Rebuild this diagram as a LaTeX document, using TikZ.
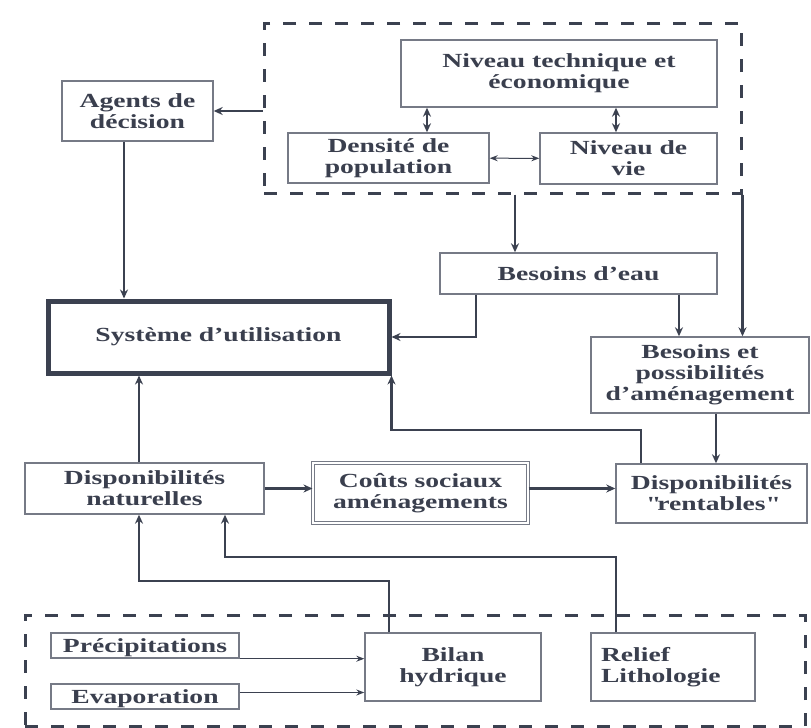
\documentclass[tikz,border=0pt]{standalone}
\usepackage{fontspec}
\setmainfont{Liberation Serif}[FakeStretch=1.38]
\usepackage{tikz}
\usetikzlibrary{positioning,arrows.meta}
\definecolor{trait}{HTML}{3B4150}
\definecolor{cadre}{HTML}{767A86}
\definecolor{texte}{HTML}{3A3F4E}

\begin{document}
\begin{tikzpicture}[x=0.5pt, y=-0.5pt, >={Stealth[length=4.5pt,width=4pt]},
      boite/.style={draw=cadre, line width=0.7pt, fill=white, text=texte, align=center,
                    inner sep=2pt, font=\bfseries\fontsize{10}{10.5}\selectfont},
      zone/.style={draw=trait, line width=1.5pt, dash pattern=on 6.5pt off 6.5pt},
      fleche/.style={draw=trait, line width=1.3pt, ->},
      fin/.style={draw=trait, line width=0.5pt, ->, >={Stealth[length=4pt,width=3pt]}}]
      \useasboundingbox (0,0) rectangle (811,728);
      % zones en tirets
      \node[zone, minimum width=238.5pt, minimum height=85pt] (haut) at (502.5,108) {};
      \node[zone, minimum width=390pt, minimum height=55.5pt] (bas) at (415,670.5) {};
      % boites
      \node[boite, minimum width=75.5pt, minimum height=30pt] (agents) at (137.5,111) {Agents de\\décision};
      \node[boite, minimum width=158pt, minimum height=33.5pt] (niv) at (559,73.5) {Niveau technique et\\économique};
      \node[boite, minimum width=100.5pt, minimum height=25pt] (dens) at (388.5,158) {Densité de\\population};
      \node[boite, minimum width=88.5pt, minimum height=25.5pt] (vie) at (628.5,158.5) {Niveau de\\vie};
      \node[boite, minimum width=138.5pt, minimum height=20.5pt] (eau) at (578.5,273.5) {Besoins d’eau};
      \node[boite, draw=trait, line width=2.5pt, minimum width=170.5pt, minimum height=36pt] (sys) at (218.5,337) {Système d’utilisation};
      \node[boite, minimum width=109pt, minimum height=38pt] (besp) at (700,375) {Besoins et\\possibilités\\d’aménagement};
      \node[boite, minimum width=119.5pt, minimum height=25.5pt] (dnat) at (144.5,488.5) {Disponibilités\\naturelles};
      \node[boite, double, double distance=1.2pt, line width=0.5pt, minimum width=107.5pt, minimum height=30pt] (couts) at (420.5,493) {Coûts sociaux\\aménagements};
      \node[boite, minimum width=95.5pt, minimum height=29.5pt] (drent) at (711.5,493.5) {Disponibilités\\\textquotedbl rentables\textquotedbl};
      \node[boite, text depth=0pt, inner ysep=1pt, minimum width=94pt, minimum height=12.5pt] (prec) at (145,645.5) {Précipitations};
      \node[boite, text depth=0pt, inner ysep=1pt, minimum width=94pt, minimum height=12.5pt] (evap) at (145,696.5) {Evaporation};
      \node[boite, minimum width=88pt, minimum height=34pt] (bilan) at (453,667) {Bilan\\hydrique};
      \node[boite, text width=72pt, align=left, minimum width=82pt, minimum height=34pt] (relief) at (673,667) {Relief\\Lithologie};
      % liaisons
      \draw[fleche] (agents.east -| haut.west) -- (agents.east);
      \draw[fleche, <->] (dens.north -| 427,0) -- (niv.south -| 427,0);
      \draw[fleche, <->] (vie.north -| 616,0) -- (niv.south -| 616,0);
      \draw[fin, <->] (dens) -- (vie);
      \draw[fleche] (haut.south -| 515,0) -- (eau.north -| 515,0);
      \draw[fleche] (haut.south east) -- (haut.south east |- besp.north);
      \draw[fleche] (agents.south -| 124,0) -- (sys.north -| 124,0);
      \draw[fleche] (eau.south -| 476,0) |- (sys.east);
      \draw[fleche] (eau.south -| 679,0) -- (besp.north -| 679,0);
      \draw[fleche] (besp.south -| 716,0) -- (drent.north -| 716,0);
      \draw[fleche] (drent.north -| 641,0) -- (641,430) -| (sys.south east);
      \draw[fleche] (dnat.north -| 139,0) -- (sys.south -| 139,0);
      \draw[fleche] (dnat.east) -- (couts.west |- dnat.east);
      \draw[fleche] (couts.east |- dnat.east) -- (drent.west |- dnat.east);
      \draw[fleche] (bilan.north -| 389,0) -- (389,581) -| (dnat.south -| 139,0);
      \draw[fleche] (relief.north -| 616,0) -- (616,557) -| (dnat.south -| 225,0);
      \draw[fin] (prec.south east) -- (prec.south east -| bilan.west);
      \draw[fin] ([yshift=2pt]evap.east) -- ([yshift=2pt]evap.east -| bilan.west);
\end{tikzpicture}
\end{document}
